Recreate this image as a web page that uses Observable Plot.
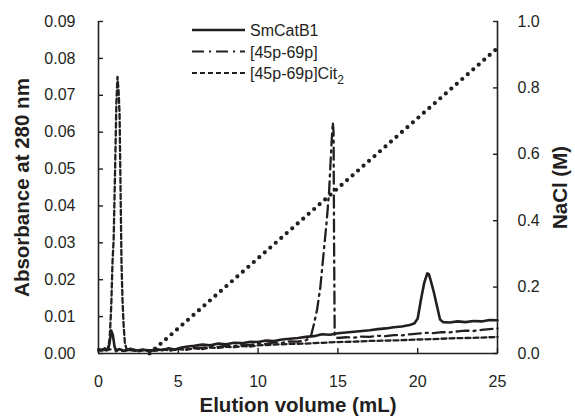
<!DOCTYPE html>
<html>
<head>
<meta charset="utf-8">
<script src="https://cdn.jsdelivr.net/npm/d3@7"></script>
<script src="https://cdn.jsdelivr.net/npm/@observablehq/plot@0.6"></script>
<style>
  html, body { margin: 0; padding: 0; background: #fff; }
</style>
</head>
<body>
<div id="chart"></div>
<script>
// ---- data ----
const seriesNames = ["SmCatB1", "[45p-69p]", "[45p-69p]Cit2"];

const smX = [0,0.2,0.4,0.6,0.7,0.8,0.9,1.0,1.1,1.3,1.6,2.0,2.4,2.8,3.2,3.6,4.0,4.4,4.8,5.2,5.6,6.0,6.5,7.0,7.5,8.0,8.5,9.0,9.5,10.0,10.5,11.0,11.5,12.0,12.5,13.0,13.5,14.0,14.5,15.0,15.5,16.0,16.5,17.0,17.5,18.0,18.5,19.0,19.5,19.8,20.0,20.2,20.4,20.6,20.7,20.8,21.0,21.2,21.4,21.6,22.0,22.5,23.0,23.5,24.0,24.5,25.0];
const smY = [0.0012,0.0008,0.0014,0.0010,0.0030,0.0062,0.0050,0.0020,0.0006,0.0012,0.0007,0.0013,0.0008,0.0011,0.0006,0.0012,0.0009,0.0014,0.0010,0.0016,0.0019,0.0021,0.0024,0.0022,0.0027,0.0025,0.0029,0.0028,0.0032,0.0031,0.0035,0.0034,0.0038,0.0040,0.0042,0.0045,0.0047,0.0052,0.0051,0.0055,0.0057,0.0059,0.0061,0.0063,0.0066,0.0068,0.0071,0.0073,0.0077,0.0082,0.0095,0.0145,0.0190,0.0217,0.0215,0.0200,0.0168,0.0130,0.0092,0.0085,0.0084,0.0087,0.0085,0.0088,0.0087,0.0091,0.0090];

const ddX = [0,0.5,1,1.5,2,2.5,3,3.5,4,4.5,5,5.5,6,6.5,7,7.5,8,8.5,9,9.5,10,10.5,11,11.5,12,12.5,13,13.3,13.5,13.7,13.9,14.1,14.3,14.45,14.6,14.68,14.73,14.76,14.8,15,15.5,16,16.5,17,17.5,18,18.5,19,19.5,20,20.5,21,21.5,22,22.5,23,23.5,24,24.5,25];
const ddY = [0.0008,0.0010,0.0012,0.0007,0.0010,0.0006,0.0009,0.0008,0.0011,0.0010,0.0013,0.0012,0.0016,0.0015,0.0019,0.0018,0.0021,0.0020,0.0024,0.0023,0.0027,0.0026,0.0030,0.0029,0.0033,0.0032,0.0036,0.0045,0.0080,0.0120,0.0180,0.0270,0.0360,0.0440,0.0570,0.0626,0.0600,0.0300,0.0045,0.0042,0.0044,0.0043,0.0046,0.0045,0.0048,0.0047,0.0050,0.0049,0.0052,0.0054,0.0056,0.0055,0.0058,0.0057,0.0060,0.0062,0.0061,0.0064,0.0066,0.0068];

const ctX = [0,0.3,0.5,0.6,0.7,0.8,0.88,0.95,1.05,1.12,1.19,1.26,1.32,1.38,1.44,1.5,1.57,1.65,1.75,2,2.5,3,3.5,4,4.5,5,5.5,6,6.5,7,7.5,8,8.5,9,9.5,10,11,12,13,14,15,16,17,18,19,20,21,22,23,24,25];
const ctY = [0.0009,0.0012,0.0008,0.0015,0.004,0.013,0.025,0.031,0.052,0.068,0.075,0.071,0.065,0.045,0.025,0.015,0.008,0.003,0.0012,0.0009,0.0006,0.0010,0.0007,0.0011,0.0008,0.0012,0.0010,0.0014,0.0012,0.0016,0.0015,0.0018,0.0017,0.0020,0.0019,0.0022,0.0024,0.0026,0.0027,0.0029,0.0031,0.0032,0.0034,0.0035,0.0036,0.0038,0.0039,0.0041,0.0042,0.0043,0.0045];

const naclX = [3.2, 25];
const naclY = [0, 0.92];

const xTicks = [0, 5, 10, 15, 20, 25];
const yTicks = [0, 0.01, 0.02, 0.03, 0.04, 0.05, 0.06, 0.07, 0.08, 0.09];
const rTicks = [0, 0.2, 0.4, 0.6, 0.8, 1.0];

// ---- build ----
const yMax = 0.09, rMax = 1.0, k = yMax / rMax;
const zip = (xs, ys) => xs.map((x, i) => ({x, y: ys[i]}));
const sm = zip(smX, smY), dd = zip(ddX, ddY), ct = zip(ctX, ctY);
const nacl = naclX.map((x, i) => ({x, y: naclY[i] * k}));
const ink = "#231f20";
const font = "'Liberation Sans', Arial, sans-serif";

const chart = Plot.plot({
  width: 575, height: 416,
  marginLeft: 98, marginRight: 78, marginTop: 21, marginBottom: 63,
  style: {fontFamily: font, fontSize: "16px", color: ink, background: "#fff"},
  x: {domain: [0, 25]},
  y: {domain: [0, yMax]},
  marks: [
    // gradient
    Plot.line(nacl, {x: "x", y: "y", stroke: ink, strokeWidth: 4.2, strokeDasharray: "0,7.3", strokeLinecap: "round"}),
    // traces
    Plot.line(ct, {x: "x", y: "y", stroke: ink, strokeWidth: 2.3, strokeDasharray: "5,3"}),
    Plot.line(dd, {x: "x", y: "y", stroke: ink, strokeWidth: 2.3, strokeDasharray: "12,5,2,5"}),
    Plot.line(sm, {x: "x", y: "y", stroke: ink, strokeWidth: 2.6}),
    // axis lines
    Plot.ruleX([0, 25], {stroke: ink, strokeWidth: 1.6}),
    Plot.ruleY([0], {stroke: ink, strokeWidth: 1.6}),
    // ticks (inward)
    Plot.axisX(xTicks, {anchor: "bottom", tickSize: 5, dy: -5, tickFormat: () => "", label: null, stroke: ink, strokeWidth: 1.4}),
    Plot.axisY(yTicks, {anchor: "left", tickSize: 5, dx: 5, tickFormat: () => "", label: null, stroke: ink, strokeWidth: 1.4}),
    Plot.axisY(rTicks.map(v => v * k), {anchor: "right", tickSize: 5, dx: -5, tickFormat: () => "", label: null, stroke: ink, strokeWidth: 1.4}),
    // tick labels
    Plot.axisX(xTicks, {anchor: "bottom", tickSize: 0, tickPadding: 22, label: null, fontSize: 16, fill: ink}),
    Plot.axisY(yTicks, {anchor: "left", tickSize: 0, tickPadding: 23, tickFormat: d3.format(".2f"), label: null, fontSize: 16, fill: ink}),
    Plot.axisY(rTicks.map(v => v * k), {anchor: "right", tickSize: 0, tickPadding: 20, tickFormat: d => (d / k).toFixed(1), label: null, fontSize: 16, fill: ink}),
    // axis titles
    Plot.text(["Elution volume (mL)"], {frameAnchor: "bottom", dy: 52, fontWeight: "bold", fontSize: 20.5, fill: ink, lineAnchor: "middle", textAnchor: "middle"}),
    Plot.text(["Absorbance at 280 nm"], {frameAnchor: "left", dx: -76, rotate: -90, fontWeight: "bold", fontSize: 20.5, fill: ink, textAnchor: "middle", lineAnchor: "middle"}),
    Plot.text(["NaCl (M)"], {frameAnchor: "right", dx: 63, rotate: -90, fontWeight: "bold", fontSize: 20.5, fill: ink, textAnchor: "middle", lineAnchor: "middle"})
  ]
});

// ---- legend (inside plot, top centre) ----
const svg = d3.select(chart);
const lg = svg.append("g").attr("font-family", font).attr("font-size", 16).attr("fill", ink).attr("text-anchor", "start");
const styles = [
  {dash: null, w: 2.4},
  {dash: "12,5,2,5", w: 2.2},
  {dash: "5,3", w: 2.2}
];
seriesNames.forEach((name, i) => {
  const yy = 30 + i * 21.5;
  lg.append("line").attr("x1", 192).attr("x2", 245).attr("y1", yy).attr("y2", yy)
    .attr("stroke", ink).attr("stroke-width", styles[i].w)
    .attr("stroke-dasharray", styles[i].dash);
  const t = lg.append("text").attr("x", 250).attr("y", yy + 6).attr("text-anchor", "start");
  if (name.endsWith("Cit2")) {
    t.text(name.slice(0, -1));
    t.append("tspan").attr("dy", 5).attr("font-size", 12).text("2");
  } else {
    t.text(name);
  }
});

document.getElementById("chart").appendChild(chart);
</script>
</body>
</html>
